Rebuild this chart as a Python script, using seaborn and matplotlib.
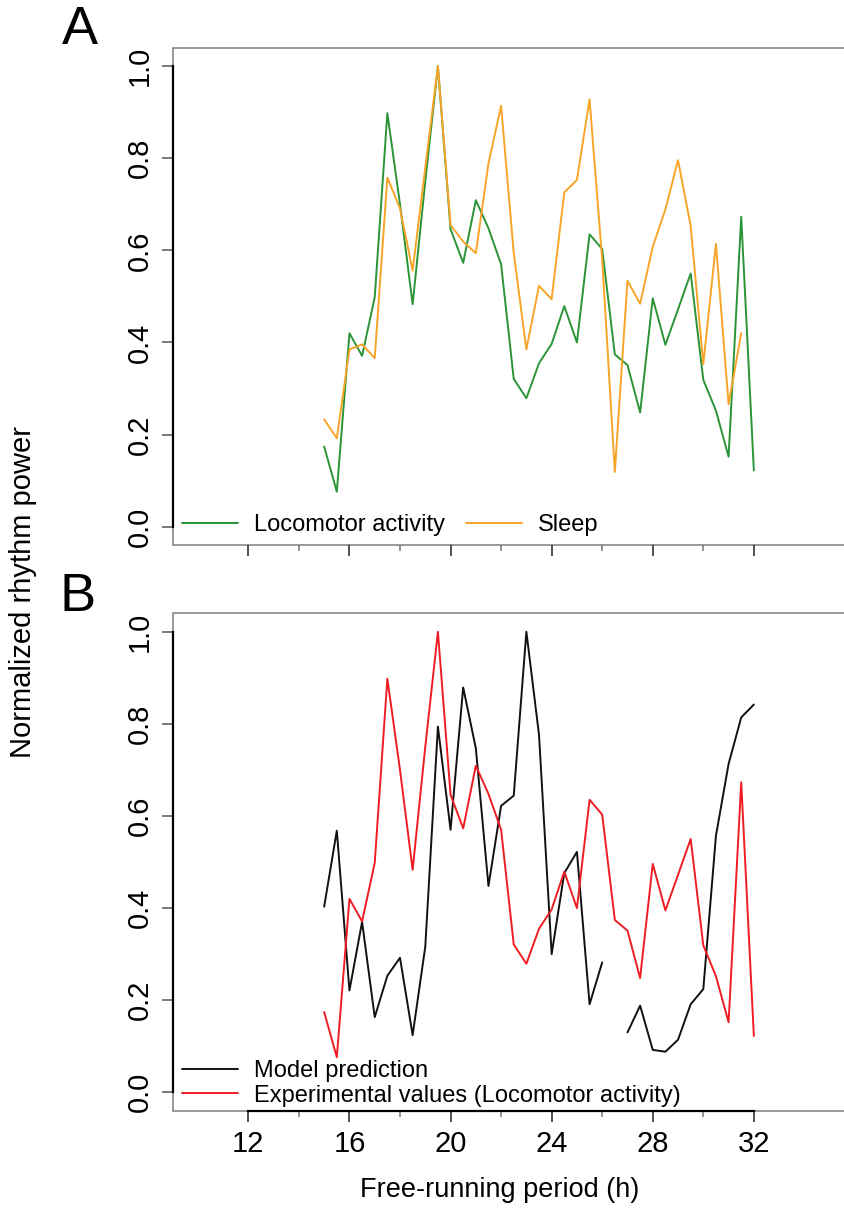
import numpy as np
import pandas as pd
import matplotlib
matplotlib.use("Agg")
import matplotlib.pyplot as plt
import seaborn as sns

# ---------------------------
# Data
# ---------------------------
periods = [15.0, 15.5, 16.0, 16.5, 17.0, 17.5, 18.0, 18.5, 19.0, 19.5,
           20.0, 20.5, 21.0, 21.5, 22.0, 22.5, 23.0, 23.5, 24.0, 24.5,
           25.0, 25.5, 26.0, 26.5, 27.0, 27.5, 28.0, 28.5, 29.0, 29.5,
           30.0, 30.5, 31.0, 31.5, 32.0]

locomotor = [0.174, 0.076, 0.420, 0.371, 0.498, 0.898, 0.700, 0.483, 0.750, 1.000,
             0.646, 0.573, 0.709, 0.648, 0.570, 0.321, 0.279, 0.355, 0.397, 0.479,
             0.400, 0.635, 0.603, 0.374, 0.351, 0.248, 0.496, 0.395, 0.472, 0.550,
             0.319, 0.252, 0.152, 0.673, 0.122]

# sleep stops at 31.5 h
sleep = [0.233, 0.192, 0.385, 0.396, 0.366, 0.758, 0.691, 0.556, 0.780, 1.000,
         0.655, 0.619, 0.594, 0.789, 0.914, 0.594, 0.385, 0.523, 0.494, 0.726,
         0.753, 0.928, 0.580, 0.119, 0.534, 0.484, 0.608, 0.689, 0.796, 0.653,
         0.353, 0.614, 0.266, 0.420]

# model prediction has a gap at 26.5 h
model = [0.403, 0.568, 0.221, 0.370, 0.163, 0.253, 0.292, 0.124, 0.316, 0.794,
         0.570, 0.879, 0.747, 0.448, 0.622, 0.644, 1.000, 0.776, 0.300, 0.476,
         0.522, 0.191, 0.282, np.nan, 0.130, 0.188, 0.092, 0.088, 0.114, 0.191,
         0.224, 0.557, 0.713, 0.814, 0.842]

y_ticks = [0.0, 0.2, 0.4, 0.6, 0.8, 1.0]
y_ticklabels = ["0.0", "0.2", "0.4", "0.6", "0.8", "1.0"]
x_major = [12, 16, 20, 24, 28, 32]
x_minor = [14, 18, 22, 26, 30]

GREEN = "#2b9437"
ORANGE = "#f7a528"
BLACK = "#111111"
RED = "#ee1d24"

df_loco = pd.DataFrame({"period": periods, "power": locomotor})
df_sleep = pd.DataFrame({"period": periods[:len(sleep)], "power": sleep})
df_model = pd.DataFrame({"period": periods, "power": model})
df_model["segment"] = df_model["power"].isna().cumsum()
df_model = df_model.dropna()

sns.set_theme(style="white")
plt.rcParams['font.family'] = ['Liberation Sans', 'DejaVu Sans']
plt.rcParams['text.color'] = 'black'
plt.rcParams['xtick.labelcolor'] = 'black'
plt.rcParams['ytick.labelcolor'] = 'black'

fig = plt.figure(figsize=(8.44, 12.10), dpi=100)
ax_a = fig.add_axes([0.205, 0.5495, 0.802, 0.411])
ax_b = fig.add_axes([0.205, 0.0821, 0.802, 0.411])

# ---------------------------
# A: locomotor vs sleep
# ---------------------------
sns.lineplot(data=df_loco, x="period", y="power", color=GREEN, lw=1.4,
             ax=ax_a, label="Locomotor activity")
sns.lineplot(data=df_sleep, x="period", y="power", color=ORANGE, lw=1.4,
             ax=ax_a, label="Sleep")

# ---------------------------
# B: model vs experiment
# ---------------------------
sns.lineplot(data=df_model, x="period", y="power", units="segment",
             estimator=None, color=BLACK, lw=1.4, ax=ax_b,
             label="Model prediction")
sns.lineplot(data=df_loco, x="period", y="power", color=RED, lw=1.4,
             ax=ax_b, label="Experimental values (Locomotor activity)")

for ax in (ax_a, ax_b):
    ax.set_xlim(9.02, 35.8)
    ax.set_ylim(-0.04, 1.04)
    ax.set_xlabel("")
    ax.set_ylabel("")
    ax.set_yticks(y_ticks)
    ax.set_yticklabels(y_ticklabels, rotation=90, va="center", fontsize=21)
    ax.set_xticks(x_major)
    ax.set_xticks(x_minor, minor=True)
    ax.tick_params(axis="both", which="both", bottom=True, left=True)
    ax.tick_params(axis="both", which="major", direction="out", length=8,
                   width=1.1, color="#222222", pad=6)
    ax.tick_params(axis="x", which="minor", direction="out", length=4,
                   width=1.1, color="#777777")
    ax.tick_params(axis="y", which="major", color="#555555")
    for side in ("top", "right", "bottom"):
        ax.spines[side].set_visible(False)
    ax.spines["left"].set_bounds(0, 1)
    ax.spines["left"].set_color("black")
    ax.spines["left"].set_linewidth(1.6)
    ax.patch.set_edgecolor("#888888")
    ax.patch.set_linewidth(1.2)

ax_a.set_xticklabels([])
ax_b.spines["bottom"].set_visible(True)
ax_b.spines["bottom"].set_bounds(12, 32)
ax_b.spines["bottom"].set_color("black")
ax_b.spines["bottom"].set_linewidth(1.6)
ax_b.set_xticklabels([str(t) for t in x_major], fontsize=21)


def unique_handles(ax):
    h, l = ax.get_legend_handles_labels()
    seen = {}
    for handle, label in zip(h, l):
        if label not in seen:
            seen[label] = handle
    return list(seen.values()), list(seen.keys())


h, l = unique_handles(ax_a)
ax_a.legend(h, l, loc="lower left", bbox_to_anchor=(0.0133, 0.018), ncol=2,
            frameon=False, fontsize=17, handlelength=2.35, handletextpad=0.7,
            columnspacing=0.9, borderpad=0, borderaxespad=0)

h, l = unique_handles(ax_b)
ax_b.legend(h, l, loc="lower left", bbox_to_anchor=(0.0133, 0.008), ncol=1,
            frameon=False, fontsize=17, handlelength=2.35, handletextpad=0.7,
            labelspacing=0.12, borderpad=0, borderaxespad=0)

fig.text(80 / 844, 1 - 30 / 1210, "A", fontsize=39, ha="center", va="center")
fig.text(78 / 844, 1 - 597 / 1210, "B", fontsize=39, ha="center", va="center")
fig.text(23 / 844, 1 - 592 / 1210, "Normalized rhythm power", fontsize=21,
         rotation=90, ha="center", va="center")
fig.text(500 / 844, 1 - 1190 / 1210, "Free-running period (h)", fontsize=19.5,
         ha="center", va="center")

fig.savefig("out.png", dpi=100)
